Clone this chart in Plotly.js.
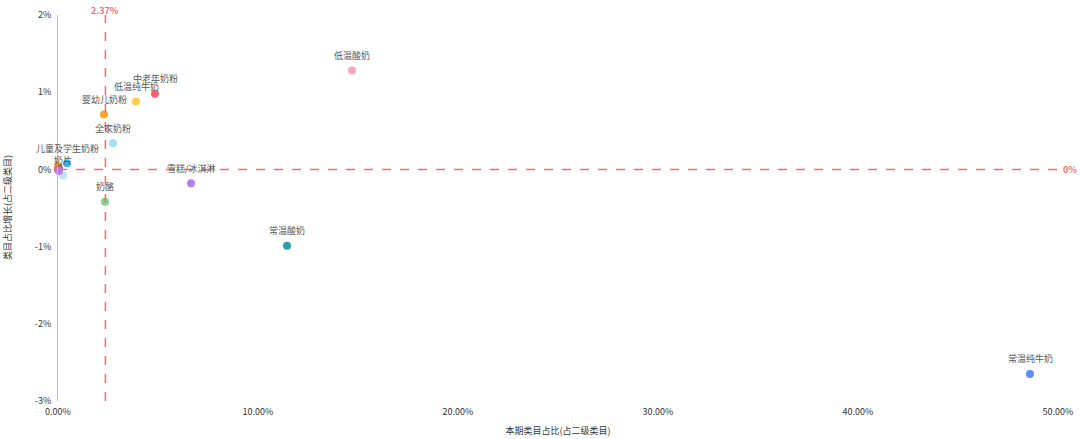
<!DOCTYPE html>
<html>
<head>
<meta charset="utf-8">
<script src="https://cdn.plot.ly/plotly-3.0.1.min.js"></script>
<style>html,body{margin:0;padding:0;background:#fff;}#chart{width:1080px;height:439px;}</style>
</head>
<body>
<div id="chart"></div>
<script>
// 本期类目占比(占二级类目), 单位 %
const categories = ["低温酸奶","中老年奶粉","低温纯牛奶","婴幼儿奶粉","全家奶粉","儿童及学生奶粉","奶片","雪糕/冰淇淋","奶酪","常温酸奶","常温纯牛奶","","","",""];
const shareValues = [14.7, 4.85, 3.9, 2.3, 2.75, 0.45, 0.25, 6.65, 2.35, 11.45, 48.6, 0.0, 0.05, 0.0, 0.05];
// 类目占比增长(占二级类目), 单位 %
const growthValues = [1.28, 0.98, 0.88, 0.71, 0.34, 0.08, -0.08, -0.18, -0.42, -0.99, -2.65, 0.05, 0.01, 0.0, -0.02];
const pointColors = ["#f7a3c4","#f6606f","#fdd04a","#f9a825","#a3ddfa","#3fb5f2","#bfe2fb","#b37feb","#7fd68c","#2a9fa6","#5b8ff9","#f9b925","#2f6fd6","#f6505f","#b37feb"];
const avgShare = 2.37;
const xTickVals = [0,10,20,30,40,50];
const xTickText = ["0.00%","10.00%","20.00%","30.00%","40.00%","50.00%"];
const yTickVals = [-3,-2,-1,0,1,2];
const yTickText = ["-3%","-2%","-1%","0%","1%","2%"];

const font = '"Noto Sans CJK SC","Liberation Sans",Arial,sans-serif';
const trace = {
  type: 'scatter',
  mode: 'markers',
  x: shareValues,
  y: growthValues,
  text: categories,
  marker: {size: 8, color: pointColors},
  hoverinfo: 'text+x+y',
  cliponaxis: false,
  showlegend: false
};
const labelAnnotations = categories.map((c, i) => ({
  xref: 'x', yref: 'y', x: shareValues[i], y: growthValues[i], text: c,
  showarrow: false, yshift: 15, xanchor: 'center', yanchor: 'middle',
  font: {family: font, size: 9, color: '#555'}
})).filter(a => a.text !== '');

const layout = {
  width: 1080, height: 439,
  margin: {l: 58, r: 22, t: 15, b: 38},
  paper_bgcolor: '#fff', plot_bgcolor: '#fff',
  font: {family: font, size: 9, color: '#333'},
  xaxis: {
    range: [0, 50], tickmode: 'array', tickvals: xTickVals, ticktext: xTickText,
    showgrid: false, zeroline: false, showline: false, ticks: '',
    ticklabelstandoff: 4,
    tickfont: {size: 9, color: '#333'},
    title: {text: '本期类目占比(占二级类目)', font: {size: 9, color: '#333'}, standoff: 10}
  },
  yaxis: {
    range: [-3, 2], tickmode: 'array', tickvals: yTickVals, ticktext: yTickText,
    showgrid: false, zeroline: false, showline: true, linecolor: '#bbbbbb', linewidth: 1, ticks: '',
    ticklabelstandoff: 4,
    tickfont: {size: 9, color: '#333'}
  },
  shapes: [
    {type: 'line', xref: 'x', yref: 'paper', x0: avgShare, x1: avgShare, y0: 0, y1: 1,
     line: {color: '#f56c6c', width: 1.5, dash: 'dash'}},
    {type: 'line', xref: 'paper', yref: 'y', x0: 0, x1: 1, y0: 0, y1: 0,
     line: {color: '#f56c6c', width: 1.5, dash: 'dash'}}
  ],
  annotations: labelAnnotations.concat([
    {xref: 'x', yref: 'paper', x: avgShare, y: 1, yanchor: 'bottom', yshift: -4, showarrow: false,
     text: '<b>' + avgShare.toFixed(2) + '%</b>', font: {size: 9, color: '#f56c6c'}},
    {xref: 'paper', yref: 'y', x: 1, y: 0, xanchor: 'left', xshift: 3, showarrow: false,
     text: '<b>0%</b>', font: {size: 9, color: '#f56c6c'}},
    {xref: 'paper', yref: 'paper', x: 0, y: 0.5, xanchor: 'center', yanchor: 'middle', xshift: -51,
     textangle: -90, showarrow: false, text: '类目占比增长(占二级类目)', font: {size: 9, color: '#333'}}
  ])
};
Plotly.newPlot('chart', [trace], layout, {displayModeBar: false, staticPlot: true});
</script>
</body>
</html>
